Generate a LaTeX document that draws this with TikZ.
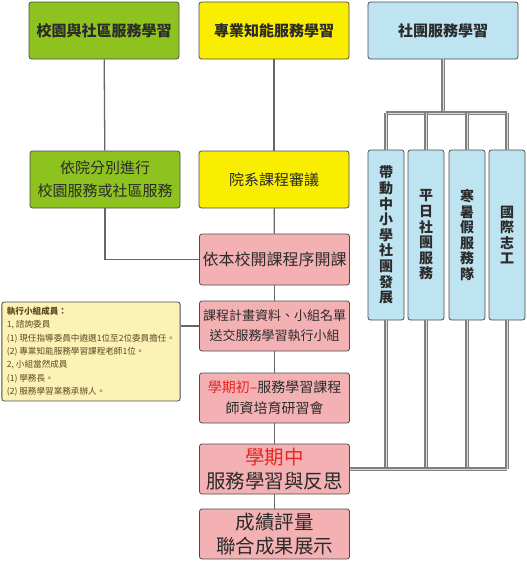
\documentclass[tikz,border=0pt]{standalone}
\usepackage{fontspec}
\setmainfont{Noto Sans CJK TC}
\definecolor{boxgreen}{HTML}{8DC21F}
\definecolor{boxyellow}{HTML}{FAEE00}
\definecolor{boxblue}{HTML}{BEE3F1}
\definecolor{boxpink}{HTML}{F4B1B4}
\definecolor{notefill}{HTML}{FCF2B6}
\definecolor{notetext}{HTML}{5C4A1F}
\definecolor{termred}{HTML}{E8251E}
\definecolor{inkgray}{HTML}{2B2B2B}
\begin{document}
\begin{tikzpicture}[x=1pt,y=-1pt,
	box/.style={draw=black!70,line width=0.8pt,rounded corners=2.5pt,align=center,
		inner sep=0pt,text=inkgray,minimum width=150pt,minimum height=57pt},
	greenbox/.style={box,fill=boxgreen},
	yellowbox/.style={box,fill=boxyellow},
	bluebox/.style={box,fill=boxblue},
	pinkbox/.style={box,fill=boxpink,minimum height=50pt},
	vbox/.style={box,fill=boxblue,minimum width=36pt,minimum height=170pt,
		font=\fontsize{14}{15.6}\selectfont\bfseries},
	notebox/.style={draw=black!70,line width=0.8pt,rounded corners=2.5pt,fill=notefill,
		text=notetext,minimum width=178pt,minimum height=99pt,align=left,
		inner sep=5pt,font=\fontsize{8.6}{13.3}\selectfont},
	link/.style={draw=black!60,line width=1.3pt},
	brace/.style={draw=black!50,line width=1.2pt,double=black!15,double distance=0.7pt}]
	\useasboundingbox (0,0) rectangle (527,562);
	% Ba hướng học tập (hàng trên cùng)
	\node[greenbox,font=\fontsize{15}{18}\selectfont\bfseries] (campus) at (104,30.5) {校園與社區服務學習};
	\node[yellowbox,font=\fontsize{15}{18}\selectfont\bfseries] (major) at (274,30.5) {專業知能服務學習};
	\node[bluebox,font=\fontsize{15}{18}\selectfont\bfseries] (club) at (443,30.5) {社團服務學習};
	% Hàng thứ hai
	\node[greenbox,font=\fontsize{15}{23}\selectfont] (college) at (105,179.5) {依院分別進行\\校園服務或社區服務};
	\node[yellowbox,font=\fontsize{15}{18}\selectfont] (review) at (274,179.5) {院系課程審議};
	% Các bước chính (cột giữa)
	\node[pinkbox,minimum height=51pt,font=\fontsize{16}{19}\selectfont] (open) at (274.5,259.5) {依本校開課程序開課};
	\node[pinkbox,font=\fontsize{13}{20}\selectfont] (submit) at (274.5,326) {課程計畫資料、小組名單\\送交服務學習執行小組};
	\node[pinkbox,font=\fontsize{14}{21}\selectfont] (train) at (274.5,398) {\textcolor{termred}{學期初–}服務學習課程\\師資培育研習會};
	\node[pinkbox,font=\fontsize{19.5}{24}\selectfont] (reflect) at (274.5,469) {\textcolor{termred}{學期中}\\服務學習與反思};
	\node[pinkbox,font=\fontsize{19.5}{24}\selectfont] (show) at (274.5,534) {成績評量\\聯合成果展示};
	% Ghi chú bên trái
	\node[notebox] (team) at (91,351.5) {{\bfseries 執行小組成員：}\\
		1, 諮詢委員\\
		(1) 現任指導委員中遴選1位至2位委員擔任。\\
		(2) 專業知能服務學習課程老師1位。\\
		2, 小組當然成員\\
		(1) 學務長。\\
		(2) 服務學習業務承辦人。};
	% Bốn nhóm xã đoàn (chữ dọc)
	\node[vbox] (mentor) at (386,235) {帶\\動\\中\\小\\學\\社\\團\\發\\展};
	\node[vbox] (weekly) at (426,235) {平\\日\\社\\團\\服\\務};
	\node[vbox] (holiday) at (467,235) {寒\\暑\\假\\服\\務\\隊};
	\node[vbox] (global) at (507,235) {國\\際\\志\\工};
	\coordinate (topbar) at (0,113);
	% Đường nối
	\draw[link] (campus) -- (college);
	\draw[link] (college.south) |- (open.west);
	\draw[link] (major) -- (review);
	\draw[link] (review) -- (open);
	\draw[link] (open) -- (submit);
	\draw[link] (submit) -- (train);
	\draw[link] (train) -- (reflect);
	\draw[link] (reflect) -- (show);
	\draw[link] (team.east |- submit.west) -- (submit.west);
	% Nhánh trên và dưới của các nhóm
	\draw[brace] (club.south) -- (club.south |- topbar);
	\draw[brace] (mentor.north |- topbar) -- (global.north |- topbar);
	\foreach \grp in {mentor,weekly,holiday,global}
		\draw[brace] (\grp.north |- topbar) -- (\grp.north);
	\foreach \grp in {mentor,weekly,holiday,global}
		\draw[brace] (\grp.south) -- (\grp.south |- reflect.east);
	\draw[brace] (reflect.east) -- (global.south |- reflect.east);
\end{tikzpicture}
\end{document}
